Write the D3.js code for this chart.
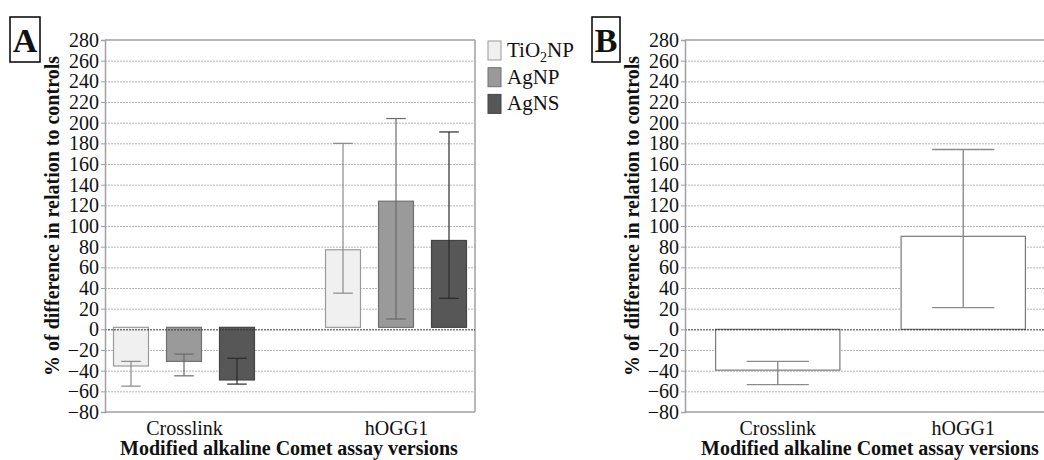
<!DOCTYPE html>
<meta charset="utf-8">
<html>
<head>
<style>
body { margin: 0; background: #fff; }
svg { display: block; }
.axis text { font-family: "Liberation Serif", serif; fill: #111; }
.title { font-family: "Liberation Serif", serif; font-weight: bold; fill: #111; }
</style>
</head>
<body>
<script src="https://cdn.jsdelivr.net/npm/d3@7"></script>
<script>

// categories and tick labels
var categories = ["Crosslink", "hOGG1"];
var seriesA = ["TiO2NP", "AgNP", "AgNS"];
var yTicks = [-80, -60, -40, -20, 0, 20, 40, 60, 80, 100, 120, 140, 160, 180, 200, 220, 240, 260, 280];

// panel A values (mean, lower and upper end of the error bar)
var tio2Mean = [-35.5, 77];
var tio2Low  = [-55, 35];
var tio2High = [-31, 180];
var agnpMean = [-31, 124];
var agnpLow  = [-45, 10];
var agnpHigh = [-24, 204];
var agnsMean = [-49, 86];
var agnsLow  = [-53, 30];
var agnsHigh = [-28, 191];

// panel B values
var bMean = [-39.5, 90];
var bLow  = [-53.5, 21];
var bHigh = [-31, 174];

var width = 1044, height = 460;
var plotTop = 40, plotBottom = 412;

var svg = d3.select("body").append("svg")
  .attr("width", width)
  .attr("height", height);

var y = d3.scaleLinear().domain([-80, 280]).range([plotBottom, plotTop]);

function drawFrame(left, right, showRight) {
  var g = svg.append("g");
  // grid
  g.selectAll(".grid")
    .data(yTicks.filter(function(d) { return d != 0 && d != -80 && d != 280; }))
    .enter().append("line")
    .attr("x1", left).attr("x2", right)
    .attr("y1", function(d) { return y(d) + 0.5; })
    .attr("y2", function(d) { return y(d) + 0.5; })
    .attr("stroke", "#b5b5b5")
    .attr("stroke-dasharray", "2,1");
  // top line
  g.append("line")
    .attr("x1", left).attr("x2", right)
    .attr("y1", y(280)).attr("y2", y(280))
    .attr("stroke", "#a0a0a0").attr("stroke-width", 1.5);
  if (showRight) {
    g.append("line")
      .attr("x1", right).attr("x2", right)
      .attr("y1", y(280)).attr("y2", y(-80))
      .attr("stroke", "#a0a0a0").attr("stroke-width", 1.5);
  }
  g.append("line")
    .attr("x1", left).attr("x2", right)
    .attr("y1", y(-80)).attr("y2", y(-80))
    .attr("stroke", "#a0a0a0").attr("stroke-width", 1.5);
  return g;
}

function drawYAxis(left, titleX) {
  var ax = svg.append("g")
    .attr("class", "axis")
    .attr("transform", "translate(" + left + ",0)")
    .call(d3.axisLeft(y).tickValues(yTicks).tickSize(4).tickPadding(2));
  ax.select(".domain").attr("stroke", "#a0a0a0").attr("stroke-width", 1.5);
  ax.selectAll(".tick line").attr("stroke", "#a0a0a0");
  ax.selectAll(".tick text").style("font-size", "20px");

  svg.append("text")
    .attr("class", "title")
    .attr("transform", "translate(" + titleX + ",216) rotate(-90)")
    .attr("text-anchor", "middle")
    .style("font-size", "20px")
    .text("% of difference in relation to controls");
}

function zeroLine(left, right) {
  svg.append("line")
    .attr("x1", left).attr("x2", right)
    .attr("y1", y(0) + 0.5).attr("y2", y(0) + 0.5)
    .attr("stroke", "#333")
    .attr("stroke-dasharray", "2,1");
}

function panelLetter(x0, w, letter) {
  svg.append("rect")
    .attr("x", x0).attr("y", 17).attr("width", w).attr("height", 45)
    .attr("fill", "#fff").attr("stroke", "#000").attr("stroke-width", 1.5);
  svg.append("text")
    .attr("class", "title")
    .attr("x", x0 + w / 2).attr("y", 52)
    .attr("text-anchor", "middle")
    .style("font-size", "34px")
    .text(letter);
}

function xAxisAndTitle(scale, centerX) {
  var ax = svg.append("g")
    .attr("class", "axis")
    .attr("transform", "translate(0," + plotBottom + ")")
    .call(d3.axisBottom(scale).tickSize(0).tickPadding(9));
  ax.select(".domain").remove();
  ax.selectAll(".tick text").style("font-size", "20px");

  svg.append("text")
    .attr("class", "title")
    .attr("x", centerX).attr("y", 455)
    .attr("text-anchor", "middle")
    .style("font-size", "20px")
    .text("Modified alkaline Comet assay versions");
}

// ---------- panel A ----------
var aLeft = 105, aRight = 475;
drawFrame(aLeft, aRight, true);

var xA = d3.scalePoint().domain(categories).range([aLeft, aRight]).padding(0.3726);
var xSeries = d3.scaleBand().domain(seriesA).range([-79.5, 79.5])
  .paddingInner(0.34).paddingOuter(0.17);

var fills = { "TiO2NP": "#f0f0f0", "AgNP": "#9a9a9a", "AgNS": "#575757" };
var strokes = { "TiO2NP": "#9a9a9a", "AgNP": "#707070", "AgNS": "#444" };
var errColors = { "TiO2NP": "#8a8a8a", "AgNP": "#6a6a6a", "AgNS": "#2a2a2a" };

var dataA = [];
categories.forEach(function(c, i) {
  dataA.push({cat: c, s: "TiO2NP", mean: tio2Mean[i], lo: tio2Low[i], hi: tio2High[i]});
  dataA.push({cat: c, s: "AgNP", mean: agnpMean[i], lo: agnpLow[i], hi: agnpHigh[i]});
  dataA.push({cat: c, s: "AgNS", mean: agnsMean[i], lo: agnsLow[i], hi: agnsHigh[i]});
});

// bars in panel A sit a hair above the zero line
var baseOff = -2;
svg.selectAll(".barA")
  .data(dataA)
  .enter().append("rect")
  .attr("class", "barA")
  .attr("x", function(d) { return xA(d.cat) + xSeries(d.s); })
  .attr("width", xSeries.bandwidth())
  .attr("y", function(d) { return Math.min(y(d.mean), y(0) + baseOff); })
  .attr("height", function(d) { return Math.abs(y(d.mean) - (y(0) + baseOff)); })
  .attr("fill", function(d) { return fills[d.s]; })
  .attr("stroke", function(d) { return strokes[d.s]; })
  .attr("stroke-width", 1.2);

zeroLine(aLeft, aRight);

var errA = svg.selectAll(".errA")
  .data(dataA)
  .enter().append("g")
  .attr("class", "errA")
  .attr("stroke", function(d) { return errColors[d.s]; })
  .attr("stroke-width", 1.2);
errA.append("line")
  .attr("x1", function(d) { return xA(d.cat) + xSeries(d.s) + xSeries.bandwidth() / 2; })
  .attr("x2", function(d) { return xA(d.cat) + xSeries(d.s) + xSeries.bandwidth() / 2; })
  .attr("y1", function(d) { return y(d.lo); })
  .attr("y2", function(d) { return y(d.hi); });
errA.selectAll(".cap")
  .data(function(d) { return [{d: d, v: d.lo}, {d: d, v: d.hi}]; })
  .enter().append("line")
  .attr("x1", function(e) { return xA(e.d.cat) + xSeries(e.d.s) + xSeries.bandwidth() * 0.22; })
  .attr("x2", function(e) { return xA(e.d.cat) + xSeries(e.d.s) + xSeries.bandwidth() * 0.78; })
  .attr("y1", function(e) { return y(e.v); })
  .attr("y2", function(e) { return y(e.v); });

drawYAxis(aLeft, 59);
xAxisAndTitle(xA, 289);
panelLetter(10, 30, "A");

// legend
var legend = svg.selectAll(".legend")
  .data(seriesA)
  .enter().append("g")
  .attr("class", "legend")
  .attr("transform", function(d, i) { return "translate(488," + (41 + i * 26.7) + ")"; });
legend.append("rect")
  .attr("width", 13).attr("height", 19)
  .attr("fill", function(d) { return fills[d]; })
  .attr("stroke", function(d) { return strokes[d]; });
var lt = legend.append("text")
  .attr("x", 19).attr("y", 16)
  .style("font-family", "Liberation Serif, serif")
  .style("font-size", "21px")
  .attr("fill", "#111");
lt.each(function(d) {
  var t = d3.select(this);
  if (d == "TiO2NP") {
    t.append("tspan").text("TiO");
    t.append("tspan").attr("dy", 5).style("font-size", "14px").text("2");
    t.append("tspan").attr("dy", -5).text("NP");
  } else {
    t.text(d);
  }
});

// ---------- panel B ----------
var bLeft = 685, bRight = 1060;
drawFrame(bLeft, bRight, false);

var xB = d3.scaleBand().domain(categories).range([bLeft, 1056])
  .paddingInner(0.33).paddingOuter(0.165);

var dataB = categories.map(function(c, i) {
  return {cat: c, mean: bMean[i], lo: bLow[i], hi: bHigh[i]};
});

svg.selectAll(".barB")
  .data(dataB)
  .enter().append("rect")
  .attr("class", "barB")
  .attr("x", function(d) { return xB(d.cat); })
  .attr("width", xB.bandwidth())
  .attr("y", function(d) { return Math.min(y(d.mean), y(0)); })
  .attr("height", function(d) { return Math.abs(y(d.mean) - y(0)); })
  .attr("fill", "#fff")
  .attr("stroke", "#7a7a7a")
  .attr("stroke-width", 1.2);

zeroLine(bLeft, bRight);

var errB = svg.selectAll(".errB")
  .data(dataB)
  .enter().append("g")
  .attr("stroke", "#8a8a8a")
  .attr("stroke-width", 1.4);
errB.append("line")
  .attr("x1", function(d) { return xB(d.cat) + xB.bandwidth() / 2; })
  .attr("x2", function(d) { return xB(d.cat) + xB.bandwidth() / 2; })
  .attr("y1", function(d) { return y(d.lo); })
  .attr("y2", function(d) { return y(d.hi); });
errB.selectAll(".cap")
  .data(function(d) { return [{d: d, v: d.lo}, {d: d, v: d.hi}]; })
  .enter().append("line")
  .attr("x1", function(e) { return xB(e.d.cat) + xB.bandwidth() * 0.25; })
  .attr("x2", function(e) { return xB(e.d.cat) + xB.bandwidth() * 0.75; })
  .attr("y1", function(e) { return y(e.v); })
  .attr("y2", function(e) { return y(e.v); });

drawYAxis(bLeft, 639);
xAxisAndTitle(xB, 870);
panelLetter(592, 28, "B");

</script>
</body>
</html>
